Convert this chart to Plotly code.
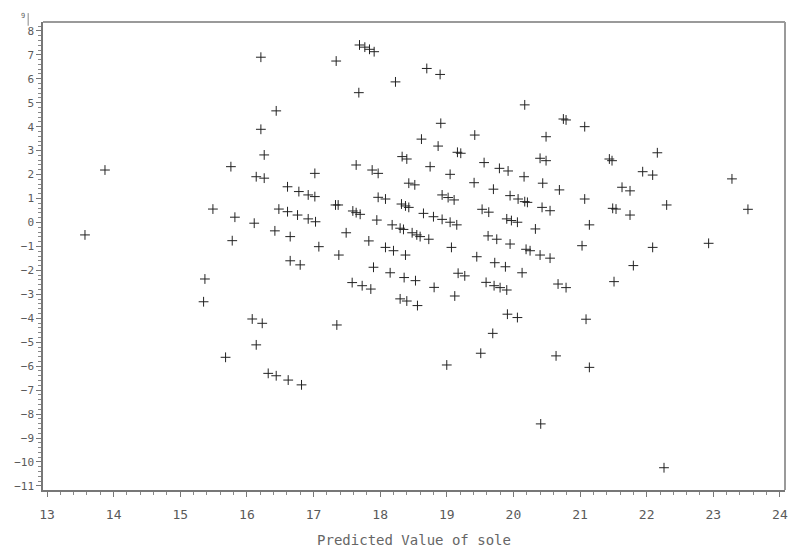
import plotly.graph_objects as go

# Predicted value (x) and residual (y) pairs
pred = [16.78, 16.92, 17.02, 17.33, 17.37, 16.48, 16.61, 16.76, 16.92, 17.03,
        16.11, 16.42, 16.65, 17.08, 16.65, 16.80, 17.38, 17.49, 17.59, 17.64,
        17.70, 17.97, 18.08, 17.95, 17.83, 18.18, 18.30, 18.35, 18.32, 18.38,
        18.43, 18.65, 18.80, 18.48, 18.55, 18.60, 18.73, 18.08, 18.20, 18.38,
        17.90, 18.15, 18.36, 18.53, 18.81, 17.58, 17.73, 17.86, 18.30, 18.40,
        18.56, 16.08, 16.23, 17.35,
        16.21, 17.34, 17.69, 17.77, 17.84, 17.91, 18.70, 18.23, 17.68, 16.44,
        16.21, 16.26, 16.14, 16.26, 16.61, 17.02, 17.64, 17.88, 17.97, 18.33,
        18.40, 18.62, 18.75, 18.43, 18.52, 18.90,
        20.17, 20.75, 20.79, 21.07, 18.91, 20.49, 19.42, 18.87, 19.16, 19.21,
        20.40, 20.49, 19.56, 19.05, 19.79, 19.92, 20.16, 20.44, 20.69, 21.07,
        21.14, 21.03, 19.41, 19.70, 19.95, 20.07, 20.17, 20.21, 20.43, 20.55,
        18.93, 19.02, 19.11, 19.53, 19.63, 19.90, 19.97, 20.06, 20.33, 19.62,
        19.75, 19.95, 20.19, 20.25, 20.40, 20.55, 19.07, 19.45, 19.72, 19.88,
        20.13, 19.17, 19.27, 18.93, 19.05, 19.15, 21.44, 21.48, 21.63, 21.49,
        21.54,
        19.59, 19.71, 19.80, 19.90, 19.12, 20.67, 20.79, 21.51, 19.91, 20.06,
        21.09, 19.69, 19.51, 20.64, 19.00, 21.14, 20.41, 16.82,
        15.37, 15.35, 16.14, 15.68, 16.32, 16.44, 16.62,
        13.87, 15.76, 15.49, 15.82, 13.57, 15.78,
        22.16, 21.94, 22.09, 23.28, 21.75, 22.30, 23.52, 21.75, 22.09, 22.93,
        21.80, 22.26]

resid = [1.29, 1.15, 1.08, 0.73, 0.73, 0.56, 0.45, 0.31, 0.15, 0.03,
         -0.03, -0.35, -0.59, -1.01, -1.60, -1.77, -1.36, -0.43, 0.48, 0.41,
         0.34, 1.05, 0.98, 0.10, -0.77, -0.10, -0.24, -0.29, 0.77, 0.69,
         0.63, 0.38, 0.24, -0.43, -0.52, -0.59, -0.70, -1.04, -1.18, -1.36,
         -1.87, -2.10, -2.30, -2.43, -2.71, -2.51, -2.64, -2.78, -3.19, -3.28,
         -3.47, -4.03, -4.21, -4.28,
         6.90, 6.74, 7.41, 7.32, 7.23, 7.13, 6.43, 5.87, 5.42, 4.66,
         3.89, 2.82, 1.91, 1.85, 1.49, 2.05, 2.40, 2.19, 2.05, 2.75,
         2.65, 3.48, 2.33, 1.64, 1.57, 6.18,
         4.91, 4.32, 4.28, 4.00, 4.14, 3.58, 3.65, 3.19, 2.93, 2.89,
         2.68, 2.58, 2.50, 2.01, 2.26, 2.15, 1.91, 1.64, 1.36, 0.98,
         -0.10, -0.97, 1.66, 1.39, 1.12, 0.98, 0.87, 0.84, 0.63, 0.49,
         1.15, 1.04, 0.94, 0.55, 0.43, 0.15, 0.08, 0.01, -0.27, -0.56,
         -0.70, -0.90, -1.12, -1.18, -1.36, -1.49, -1.04, -1.43, -1.68, -1.85,
         -2.10, -2.12, -2.23, 0.13, 0.01, -0.10, 2.65, 2.58, 1.47, 0.59,
         0.56,
         -2.50, -2.64, -2.72, -2.82, -3.07, -2.57, -2.72, -2.47, -3.83, -3.97,
         -4.04, -4.63, -5.46, -5.57, -5.95, -6.05, -8.41, -6.78,
         -2.36, -3.31, -5.11, -5.63, -6.30, -6.40, -6.58,
         2.19, 2.33, 0.56, 0.22, -0.52, -0.76,
         2.91, 2.12, 1.98, 1.82, 1.32, 0.73, 0.55, 0.31, -1.04, -0.87,
         -1.80, -10.24]

x_title = "Predicted Value of sole"

fig = go.Figure()
fig.add_trace(go.Scatter(
    x=pred, y=resid, mode="markers",
    marker=dict(symbol="cross-thin", size=7,
                line=dict(width=1, color="#222222"), color="#222222"),
    showlegend=False, hoverinfo="skip",
))

tick_font = dict(family="DejaVu Sans Mono", color="#5a5a5a")

fig.update_layout(
    width=791, height=554,
    margin=dict(l=43, r=3, t=22, b=64),
    plot_bgcolor="white", paper_bgcolor="white",
    xaxis=dict(
        range=[12.94, 24.076], tickmode="linear", tick0=13, dtick=1,
        showgrid=False, zeroline=False,
        showline=True, linecolor="#777777", linewidth=1.5,
        ticks="outside", ticklen=5, tickcolor="#777777", tickwidth=1,
        minor=dict(dtick=0.2, ticks="outside", ticklen=3, tickcolor="#888888", tickwidth=1),
        tickfont=dict(size=13, **tick_font),
        ticklabelstandoff=7,
        title=dict(text=x_title, font=dict(family="DejaVu Sans Mono", size=14, color="#666666"),
                   standoff=14),
    ),
    yaxis=dict(
        range=[-11.17, 8.37], tickmode="linear", tick0=0, dtick=1,
        showgrid=False, zeroline=False,
        showline=True, linecolor="#777777", linewidth=1.5,
        ticks="outside", ticklen=5, tickcolor="#777777", tickwidth=1,
        minor=dict(dtick=0.2, ticks="outside", ticklen=3, tickcolor="#888888", tickwidth=1),
        tickfont=dict(size=11, **tick_font),
    ),
    shapes=[
        dict(type="line", xref="paper", yref="paper", x0=0, x1=1, y0=1, y1=1,
             line=dict(color="#9a9a9a", width=2)),
        dict(type="line", xref="paper", yref="paper", x0=1, x1=1, y0=0, y1=1,
             line=dict(color="#9a9a9a", width=2)),
        dict(type="line", xref="paper", yref="paper", x0=-0.020, x1=-0.020, y0=0.992, y1=1.019,
             line=dict(color="#888888", width=1)),
    ],
    annotations=[
        dict(text="9", xref="paper", yref="paper", x=-0.027, y=1.012,
             xanchor="center", yanchor="middle", borderpad=0,
             showarrow=False, font=dict(size=7, **tick_font)),
    ],
)

fig.write_html("out.html")
